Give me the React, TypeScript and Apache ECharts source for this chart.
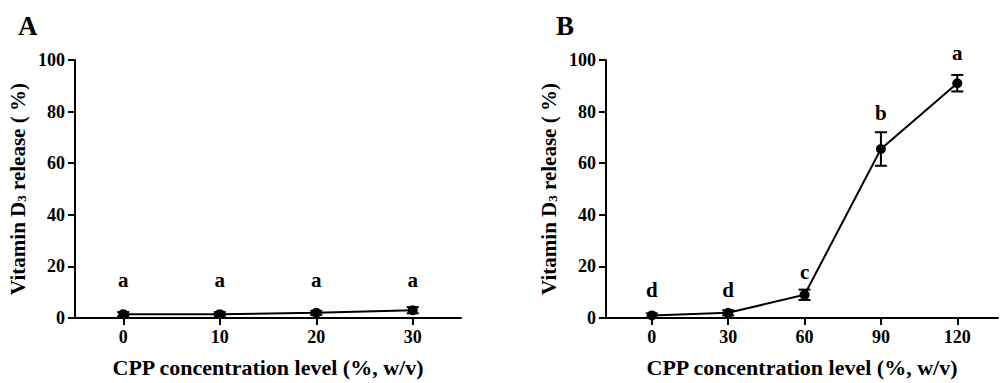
import React, { useEffect, useRef } from "react";
import * as echarts from "echarts";

const xA = [0, 10, 20, 30];
const meanA = [1.5, 1.5, 2.0, 3.0];
const sdA = [0.8, 0.8, 0.8, 1.2];
const lettersA = ["a", "a", "a", "a"];
const letterYA = [14.7, 14.7, 14.7, 14.7];

const xB = [0, 30, 60, 90, 120];
const meanB = [1.0, 2.0, 9.0, 65.5, 91.0];
const sdB = [0.8, 1.0, 2.0, 6.5, 3.2];
const lettersB = ["d", "d", "c", "b", "a"];
const letterYB = [10.8, 10.8, 17.9, 79.3, 102.6];

const xTicksA = [0, 10, 20, 30];
const xTicksB = [0, 30, 60, 90, 120];

const FONT = "Liberation Serif";

function errorSeries(xIndex: number, xs: number[], means: number[], sds: number[]) {
  return {
    type: "custom",
    xAxisIndex: xIndex,
    yAxisIndex: xIndex,
    z: 3,
    clip: false,
    data: xs.map((x, i) => [x, means[i] - sds[i], means[i] + sds[i]]),
    renderItem: (params: any, api: any) => {
      const x = api.value(0);
      const lo = api.coord([x, api.value(1)]);
      const hi = api.coord([x, api.value(2)]);
      const w = 6;
      const style = { stroke: "#000", lineWidth: 2 };
      return {
        type: "group",
        children: [
          { type: "line", shape: { x1: lo[0], y1: lo[1], x2: hi[0], y2: hi[1] }, style },
          { type: "line", shape: { x1: lo[0] - w, y1: lo[1], x2: lo[0] + w, y2: lo[1] }, style },
          { type: "line", shape: { x1: hi[0] - w, y1: hi[1], x2: hi[0] + w, y2: hi[1] }, style },
        ],
      };
    },
  };
}

function lineSeries(xIndex: number, xs: number[], means: number[]) {
  return {
    type: "line",
    xAxisIndex: xIndex,
    yAxisIndex: xIndex,
    z: 4,
    data: xs.map((x, i) => [x, means[i]]),
    symbol: "circle",
    symbolSize: 10,
    itemStyle: { color: "#000" },
    lineStyle: { color: "#000", width: 2 },
  };
}

function letterSeries(xIndex: number, xs: number[], ys: number[], letters: string[]) {
  return {
    type: "custom",
    xAxisIndex: xIndex,
    yAxisIndex: xIndex,
    clip: false,
    z: 5,
    data: xs.map((x, i) => [x, ys[i], i]),
    renderItem: (params: any, api: any) => {
      const p = api.coord([api.value(0), api.value(1)]);
      return {
        type: "text",
        x: p[0],
        y: p[1],
        style: {
          text: letters[api.value(2)],
          fill: "#000",
          font: "bold 21px " + FONT,
          align: "center",
          verticalAlign: "middle",
        },
      };
    },
  };
}

function xAxis(grid: number, min: number, max: number, ticks: number[]) {
  return {
    type: "value",
    gridIndex: grid,
    min,
    max,
    splitLine: { show: false },
    axisLine: { lineStyle: { color: "#000", width: 2 } },
    axisTick: { show: true, length: 7, customValues: ticks, lineStyle: { color: "#000", width: 2 } },
    axisLabel: {
      customValues: ticks,
      margin: 10,
      color: "#000",
      fontFamily: FONT,
      fontWeight: "bold",
      fontSize: 18,
    },
    name: "CPP concentration level (%, w/v)",
    nameLocation: "middle",
    nameGap: 38,
    nameTextStyle: { color: "#000", fontFamily: FONT, fontWeight: "bold", fontSize: 22 },
  };
}

function yAxis(grid: number) {
  return {
    type: "value",
    gridIndex: grid,
    min: 0,
    max: 100,
    interval: 20,
    splitLine: { show: false },
    axisLine: { show: true, onZero: false, lineStyle: { color: "#000", width: 2 } },
    axisTick: { show: true, length: 7, lineStyle: { color: "#000", width: 2 } },
    axisLabel: {
      margin: 10,
      color: "#000",
      fontFamily: FONT,
      fontWeight: "bold",
      fontSize: 18,
    },
    name: "Vitamin D{sub|3} release ( %)",
    nameLocation: "middle",
    nameGap: 47,
    nameTextStyle: {
      color: "#000",
      fontFamily: FONT,
      fontWeight: "bold",
      fontSize: 21,
      rich: {
        sub: { fontFamily: FONT, fontWeight: "bold", fontSize: 13, verticalAlign: "bottom", padding: [7, 0, 0, 0] },
      },
    },
  };
}

export default function App() {
  const ref = useRef<HTMLDivElement>(null);
  useEffect(() => {
    const chart = echarts.init(ref.current!, null, { renderer: "svg" });
    chart.setOption({
      animation: false,
      backgroundColor: "#fff",
      textStyle: { fontFamily: FONT, fontWeight: "bold", color: "#000" },
      grid: [
        { left: 75, top: 60, width: 386, height: 258 },
        { left: 606, top: 60, width: 392, height: 258 },
      ],
      xAxis: [xAxis(0, -5, 35, xTicksA), xAxis(1, -18, 136, xTicksB)],
      yAxis: [yAxis(0), yAxis(1)],
      graphic: [
        { type: "text", left: 18, top: 12, style: { text: "A", font: "bold 27px " + FONT, fill: "#000" } },
        { type: "text", left: 556, top: 12, style: { text: "B", font: "bold 27px " + FONT, fill: "#000" } },
      ],
      series: [
        errorSeries(0, xA, meanA, sdA),
        lineSeries(0, xA, meanA),
        letterSeries(0, xA, letterYA, lettersA),
        errorSeries(1, xB, meanB, sdB),
        lineSeries(1, xB, meanB),
        letterSeries(1, xB, letterYB, lettersB),
      ],
    });
    return () => chart.dispose();
  }, []);
  return (
    <div
      ref={ref}
      style={{ position: "fixed", left: 0, top: 0, width: 1007, height: 383, background: "#fff" }}
    />
  );
}
